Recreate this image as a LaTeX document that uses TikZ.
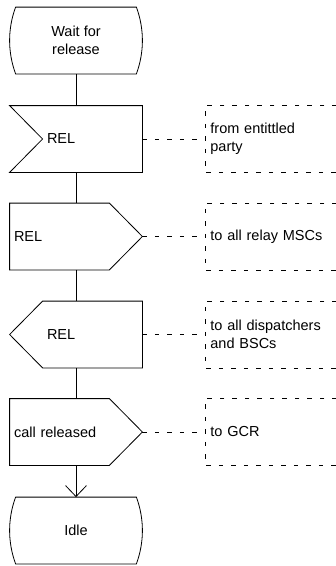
\documentclass[tikz,border=0pt]{standalone}
\usepackage{fontspec}
\setmainfont{Liberation Sans}
\usetikzlibrary{arrows.meta}
\tikzset{sym/.style={minimum width=132pt, minimum height=66pt, inner sep=0pt, font=\fontsize{14.5}{18}\selectfont}}
\tikzset{outtext/.style={sym, text width=124pt, inner xsep=4pt, align=left}}
\tikzset{intext/.style={sym, text width=58pt, inner xsep=37pt, align=left}}
\tikzset{note/.style={anchor=west, minimum width=131pt, minimum height=66pt, text width=121pt, inner xsep=5pt, inner ysep=0pt, align=left, font=\fontsize{14.5}{18}\selectfont}}
\tikzset{dsh/.style={dash pattern=on 4.5pt off 8pt}}

\begin{document}
\begin{tikzpicture}[x=1pt,y=-1pt,line width=0.8pt]
		\useasboundingbox (0,0) rectangle (336,566);
		\node[sym, align=center] (wait) at (76,40.5) {Wait for\\release};
		\node[intext] (relin) at (76,139) {REL};
		\node[outtext] (relout) at (76,236.5) {REL};
		\node[intext] (reldisp) at (76,334.5) {REL};
		\node[outtext] (callrel) at (76,432) {call released};
		\node[sym] (idle) at (76,530.5) {Idle};
		\node[note] (c1) at (205,139) {from entittled\\party};
		\node[note] (c2) at (205,236.5) {to all relay MSCs};
		\node[note] (c3) at (205,334.5) {to all dispatchers\\and BSCs};
		\node[note] (c4) at (205,432) {to GCR};
		\draw ([xshift=6pt]wait.north west) -- ([xshift=-6pt]wait.north east) .. controls +(8,22) and +(8,-22) .. ([xshift=-6pt]wait.south east) -- ([xshift=6pt]wait.south west) .. controls +(-8,-22) and +(-8,22) .. ([xshift=6pt]wait.north west);
		\draw ([xshift=6pt]idle.north west) -- ([xshift=-6pt]idle.north east) .. controls +(8,22) and +(8,-22) .. ([xshift=-6pt]idle.south east) -- ([xshift=6pt]idle.south west) .. controls +(-8,-22) and +(-8,22) .. ([xshift=6pt]idle.north west);
		\draw (relin.north west) -- (relin.north east) -- (relin.south east) -- (relin.south west) -- ([xshift=33pt]relin.west) -- cycle;
		\draw (relout.north west) -- ([xshift=-33pt]relout.north east) -- (relout.east) -- ([xshift=-33pt]relout.south east) -- (relout.south west) -- cycle;
		\draw ([xshift=33pt]reldisp.north west) -- (reldisp.north east) -- (reldisp.south east) -- ([xshift=33pt]reldisp.south west) -- (reldisp.west) -- cycle;
		\draw (callrel.north west) -- ([xshift=-33pt]callrel.north east) -- (callrel.east) -- ([xshift=-33pt]callrel.south east) -- (callrel.south west) -- cycle;
		\draw (wait) -- (relin);
		\draw (relin) -- (relout);
		\draw (relout) -- (reldisp);
		\draw (reldisp) -- (callrel);
		\draw[-{Straight Barb[length=11pt,width=21pt]}] (callrel) -- (idle);
		\foreach \s/\c in {relin/c1,relout/c2,reldisp/c3,callrel/c4}{
			\draw[dsh] (\s.east) -- (\c.west);
			\draw[dsh] (\c.north east) -- (\c.north west) -- (\c.south west) -- (\c.south east);
		}
\end{tikzpicture}
\end{document}
